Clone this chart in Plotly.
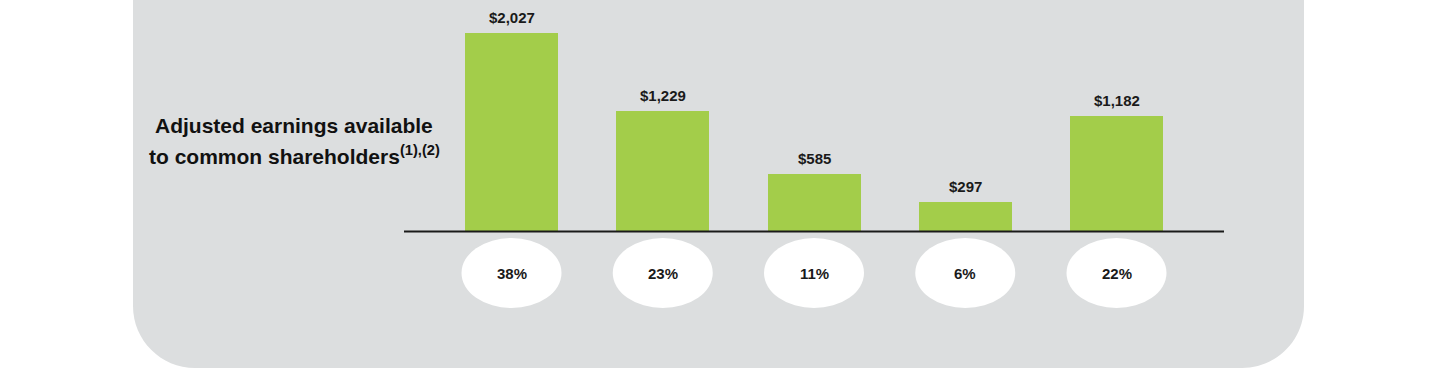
import plotly.graph_objects as go

# ---- data ----
categories = [0, 1, 2, 3, 4]
earnings = [2027, 1229, 585, 297, 1182]
value_labels = ["$2,027", "$1,229", "$585", "$297", "$1,182"]
share_labels = ["38%", "23%", "11%", "6%", "22%"]
title_line1 = "Adjusted earnings available"
title_line2 = "to common shareholders<sup>(1),(2)</sup>"

# ---- layout geometry (pixels) ----
W, H = 1440, 372
X0_PIX, X_STEP = 511.5, 151.25      # pixel of first category, spacing
BASE_PIX, UNITS_PER_PX = 231.5, 10.2  # y pixel of value 0, data units per pixel


def px2x(p):
    return (p - X0_PIX) / X_STEP


def py2y(p):
    return (BASE_PIX - p) * UNITS_PER_PX


def pxp(p):
    return p / W


def pyp(p):
    return 1 - p / H


GREEN = "#a3cd4a"
PANEL = "#dcdedf"
SANS = "Liberation Sans, Arial, sans-serif"

fig = go.Figure()
fig.add_trace(go.Bar(
    x=categories, y=earnings, width=93 / X_STEP,
    marker=dict(color=GREEN, line=dict(width=0)),
    hoverinfo="skip", showlegend=False,
))

shapes = []
# gray rounded panel (bottom corners rounded)
L, R, T, B, r = 133, 1304, -20, 368, 62
k = 0.5523 * r
path = (
    f"M {pxp(L)},{pyp(T)} "
    f"L {pxp(L)},{pyp(B - r)} "
    f"C {pxp(L)},{pyp(B - r + k)} {pxp(L + r - k)},{pyp(B)} {pxp(L + r)},{pyp(B)} "
    f"L {pxp(R - r)},{pyp(B)} "
    f"C {pxp(R - r + k)},{pyp(B)} {pxp(R)},{pyp(B - r + k)} {pxp(R)},{pyp(B - r)} "
    f"L {pxp(R)},{pyp(T)} Z"
)
shapes.append(dict(type="path", xref="paper", yref="paper", path=path,
                   fillcolor=PANEL, line=dict(width=0), layer="below"))

# white ellipses under each category
ew, ey0, ey1 = 100 / X_STEP, py2y(238), py2y(308)
for c in categories:
    shapes.append(dict(type="circle", xref="x", yref="y",
                       x0=c - ew / 2, x1=c + ew / 2, y0=ey1, y1=ey0,
                       fillcolor="white", line=dict(width=0), layer="below"))

# baseline
shapes.append(dict(type="line", xref="x", yref="y",
                   x0=px2x(404), x1=px2x(1224), y0=0, y1=0,
                   line=dict(color="#1a1a1a", width=2)))

annotations = []
for c, v, lab in zip(categories, earnings, value_labels):
    annotations.append(dict(x=c, y=v, xref="x", yref="y", text=f"<b>{lab}</b>",
                            showarrow=False, yanchor="bottom", yshift=5,
                            font=dict(family=SANS, size=15, color="#1a1a1a")))
for c, lab in zip(categories, share_labels):
    annotations.append(dict(x=c, y=(ey0 + ey1) / 2, xref="x", yref="y",
                            text=f"<b>{lab}</b>",
                            showarrow=False, yanchor="middle",
                            font=dict(family=SANS, size=15, color="#1a1a1a")))

annotations.append(dict(x=pxp(294), y=pyp(126), xref="paper", yref="paper",
                        text=f"<b>{title_line1}</b>", showarrow=False,
                        xanchor="center", yanchor="middle",
                        font=dict(family=SANS, size=21, color="#111111")))
annotations.append(dict(x=pxp(294), y=pyp(155), xref="paper", yref="paper",
                        text=f"<b>{title_line2}</b>", showarrow=False,
                        xanchor="center", yanchor="middle",
                        font=dict(family=SANS, size=21, color="#111111")))

fig.update_layout(
    width=W, height=H,
    margin=dict(l=0, r=0, t=0, b=0),
    paper_bgcolor="white", plot_bgcolor="rgba(0,0,0,0)",
    xaxis=dict(range=[px2x(0), px2x(W)], visible=False, fixedrange=True),
    yaxis=dict(range=[py2y(H), py2y(0)], visible=False, fixedrange=True),
    shapes=shapes, annotations=annotations,
    bargap=0,
)

fig.write_html("out.html", config={"displayModeBar": False},
               post_script="document.body.style.margin='0';document.body.style.overflow='hidden';")
